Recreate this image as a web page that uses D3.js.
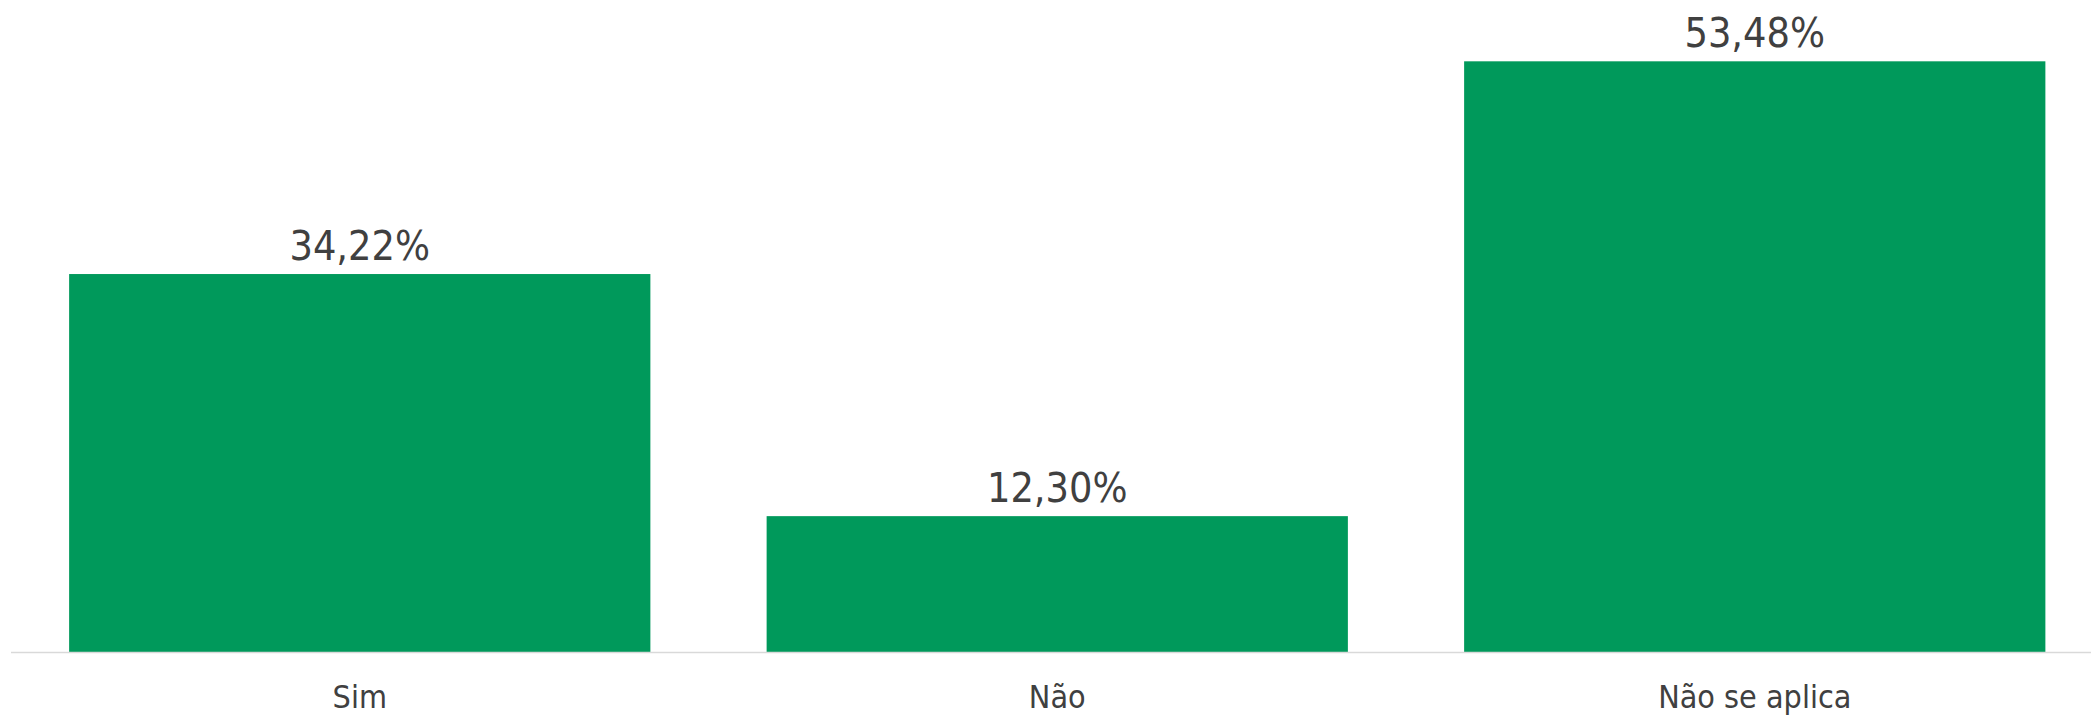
<!DOCTYPE html>
<html>
<head>
<meta charset="utf-8">
<script src="https://cdn.jsdelivr.net/npm/d3@7"></script>
<style>
  body { margin: 0; background: #fff; }
  text { font-family: "DejaVu Sans Condensed", "DejaVu Sans", sans-serif; font-stretch: condensed; fill: #404040; }
</style>
</head>
<body>
<svg width="2091" height="715"></svg>
<script>
const categories = ['Sim', 'Não', 'Não se aplica'];
const values = [34.22, 12.30, 53.48];
const labels = ['34,22%', '12,30%', '53,48%'];

const svg = d3.select('svg');
const width = +svg.attr('width');
const height = +svg.attr('height');

const baseY = 652;

// band scale runs past the right edge, like the original plot area
const x = d3.scaleBand()
    .domain(categories)
    .range([11, 2103.5])
    .paddingInner(1 / 6)
    .paddingOuter(1 / 12);

const y = d3.scaleLinear()
    .domain([0, 60])
    .range([baseY, baseY - 662.7]);

svg.selectAll('rect.bar')
    .data(values)
    .join('rect')
    .attr('class', 'bar')
    .attr('x', (d, i) => x(categories[i]))
    .attr('width', x.bandwidth())
    .attr('y', d => y(d))
    .attr('height', d => y(0) - y(d))
    .attr('fill', '#00995b');

// baseline
svg.append('line')
    .attr('x1', 11)
    .attr('x2', width)
    .attr('y1', baseY + 0.5)
    .attr('y2', baseY + 0.5)
    .attr('stroke', '#d9d9d9')
    .attr('stroke-width', 1.5);

// value labels
svg.selectAll('text.val')
    .data(values)
    .join('text')
    .attr('class', 'val')
    .attr('x', (d, i) => x(categories[i]) + x.bandwidth() / 2)
    .attr('y', d => y(d) - 14)
    .attr('text-anchor', 'middle')
    .style('font-size', '41px')
    .text((d, i) => labels[i]);

// category labels
const xAxis = d3.axisBottom(x).tickSize(0).tickPadding(0);
const axisG = svg.append('g')
    .attr('transform', `translate(0, ${baseY})`)
    .call(xAxis);
axisG.select('.domain').remove();
axisG.selectAll('text')
    .attr('dy', null)
    .attr('y', 56)
    .style('font-size', '32px')
    .style('font-family', null)
    .attr('fill', '#404040');
</script>
</body>
</html>
